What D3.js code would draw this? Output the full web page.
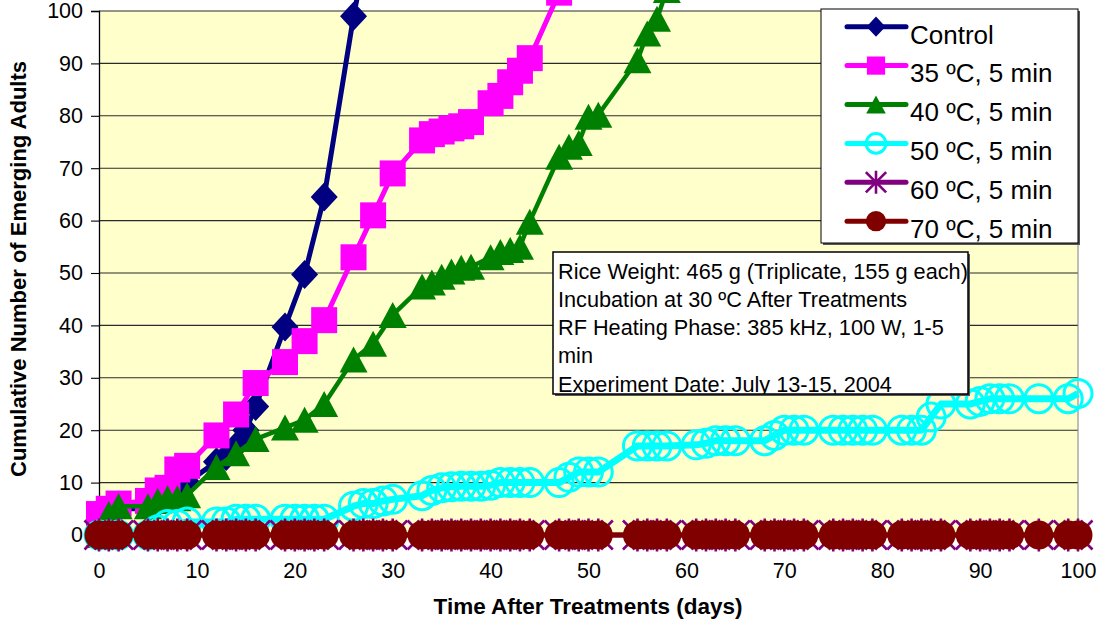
<!DOCTYPE html>
<html>
<head>
<meta charset="utf-8">
<script src="https://cdn.jsdelivr.net/npm/d3@7"></script>
<style>
html,body{margin:0;padding:0;background:#fff;}
svg{display:block;font-family:Arial,"Liberation Sans",Helvetica,sans-serif;}
</style>
</head>
<body>
<svg id="chart" width="1100" height="627"></svg>
<script>
// ---------- data ----------
const xTicks = [0,10,20,30,40,50,60,70,80,90,100];
const yTicks = [0,10,20,30,40,50,60,70,80,90,100];
const seriesNames = ["Control","35 \u00BAC, 5 min","40 \u00BAC, 5 min","50 \u00BAC, 5 min","60 \u00BAC, 5 min","70 \u00BAC, 5 min"];

const controlDays = [0,1,2,5,6,7,8,9,12,13,14,15,16,19,21,23,26,28];
const controlVals = [3,4,5,5,6,7,8,10,14,15,17,20,24.5,39.7,49.7,64.5,99,118];

const t35Days = [0,1,2,5,6,7,8,9,12,14,16,19,21,23,26,28,30,33,34,35,36,37,38,40,41,42,43,44,47];
const t35Vals = [4,5,6,6.5,8.5,9,12.5,13.2,19,23,29,33,37,41,53,61,69,75.3,76.5,77,77.6,78,78.8,82.4,83.8,86.4,88.6,91,103.5];

const t40Days = [0,1,2,5,6,7,8,9,12,14,16,19,21,23,26,28,30,33,34,35,36,37,38,40,41,42,43,44,47,48,49,50,51,55,56,57,58];
const t40Vals = [0,4,5.5,5.5,6.5,7,7,7.6,13,15.6,18.3,20.5,22,25,33.5,36.5,42,47.4,48.2,49.3,50.3,51,51.2,53,54,54.4,55,59.8,72.2,74.1,74.8,79.8,80.2,90.6,95.7,98.5,104];

const commonDays = [0,1,2,5,6,7,8,9,12,13,14,15,16,19,20,21,22,23,26,27,28,29,30,33,34,35,36,37,38,39,40,41,42,43,44,47,48,49,50,51,55,56,57,58,61,62,63,64,65,68,69,70,71,72,75,76,77,78,79,82,83,84,85,86,89,90,91,92,93,96,99,100];
const t50Vals = [0,0,0,0,1,2,2,2.5,2.5,2.5,3,3,3,3,3,3,3,3,5.5,6,6,6.5,6.8,7.5,8.5,9,9.2,9.3,9.3,9.3,9.5,10,10,10,10,10,11,12,12,12,17,17,17,17,17.2,17.5,18,18,18,18,19,20,20,20,20,20,20,20,20,20,20,20,22.5,25,25,25.5,26,26,26,26,26,27,28];
const t60Vals = commonDays.map(() => 0);
const t70Vals = commonDays.map(() => 0);

const colors = ["#000080","#FF00FF","#008000","#00FFFF","#800080","#800000"];

// ---------- layout ----------
const svg = d3.select("#chart");
const x = d3.scaleLinear().domain([0,100]).range([99,1078]);
const y = d3.scaleLinear().domain([0,100]).range([535,11]);

// plot background
svg.append("rect").attr("x",x(0)).attr("y",y(100)).attr("width",x(100)-x(0)).attr("height",y(0)-y(100))
  .attr("fill","#FFFFCC");

// gridlines
svg.append("g").selectAll("line").data(yTicks.filter(d=>d>0)).join("line")
  .attr("x1",x(0)).attr("x2",x(100)).attr("y1",d=>y(d)).attr("y2",d=>y(d))
  .attr("stroke","#2a2a2a").attr("stroke-width",1.1);
// right border
svg.append("line").attr("x1",x(100)).attr("x2",x(100)).attr("y1",y(100)).attr("y2",y(0))
  .attr("stroke","#808080").attr("stroke-width",1);

// y axis
const yAxis = d3.axisLeft(y).tickValues(yTicks).tickSize(8).tickPadding(8).tickFormat(d3.format("d"));
const gy = svg.append("g").attr("transform",`translate(${x(0)},0)`).call(yAxis);
gy.select(".domain").attr("stroke","#000").attr("stroke-width",1.3);
gy.selectAll(".tick line").attr("stroke","#000").attr("stroke-width",1.1);
gy.selectAll(".tick text").attr("font-size","21.5px").attr("fill","#000")
  .attr("font-family","Arial, 'Liberation Sans', sans-serif");

// x axis
const xAxis = d3.axisBottom(x).tickValues(xTicks).tickSize(0).tickPadding(28).tickFormat(d3.format("d"));
const gx = svg.append("g").attr("transform",`translate(0,${y(0)})`).call(xAxis);
gx.select(".domain").attr("stroke","#000").attr("stroke-width",1.2);
gx.selectAll(".tick text").attr("font-size","21.5px").attr("fill","#000")
  .attr("font-family","Arial, 'Liberation Sans', sans-serif");

// ---------- markers ----------
function markerPath(type, s){
  if(type==="diamond"){ const w=13.5*s,h=14.5*s; return `M0,${-h}L${w},0L0,${h}L${-w},0Z`; }
  if(type==="square"){ const a=13*s; return `M${-a},${-a}H${a}V${a}H${-a}Z`; }
  if(type==="triangle"){ const w=14*s,h=13*s; return `M0,${-h}L${w},${h}L${-w},${h}Z`; }
  if(type==="star"){ const a=14.5*s, b=16.5*s; return `M${-a},${-a}L${a},${a}M${-a},${a}L${a},${-a}M0,${-b}V${b}`; }
  return null;
}
function drawMarker(g, type, color, s){
  if(type==="circle"){
    g.append("circle").attr("r",14*s).attr("fill","none").attr("stroke",color).attr("stroke-width",3);
  } else if(type==="dot"){
    g.append("circle").attr("r",14.5*s).attr("fill",color);
  } else if(type==="star"){
    g.append("path").attr("d",markerPath(type,s)).attr("fill","none").attr("stroke",color).attr("stroke-width",2.6);
  } else {
    g.append("path").attr("d",markerPath(type,s)).attr("fill",color);
  }
}

const series = [
  {name:seriesNames[0], days:controlDays, vals:controlVals, color:colors[0], marker:"diamond", lw:5},
  {name:seriesNames[1], days:t35Days, vals:t35Vals, color:colors[1], marker:"square", lw:5},
  {name:seriesNames[2], days:t40Days, vals:t40Vals, color:colors[2], marker:"triangle", lw:4.5},
  {name:seriesNames[3], days:commonDays, vals:t50Vals, color:colors[3], marker:"circle", lw:7},
  {name:seriesNames[4], days:commonDays, vals:t60Vals, color:colors[4], marker:"star", lw:5},
  {name:seriesNames[5], days:commonDays, vals:t70Vals, color:colors[5], marker:"dot", lw:5}
];

const line = d3.line().x(d=>x(d[0])).y(d=>y(d[1]));
series.forEach(s=>{
  const pts = s.days.map((d,i)=>[d,s.vals[i]]);
  const g = svg.append("g");
  g.append("path").datum(pts).attr("d",line).attr("fill","none").attr("stroke",s.color)
    .attr("stroke-width",s.lw).attr("stroke-linejoin","round");
  pts.forEach(p=>{
    const m = g.append("g").attr("transform",`translate(${x(p[0])},${y(p[1])})`);
    drawMarker(m, s.marker, s.color, 1);
  });
});

// ---------- annotation box ----------
const notes = ["Rice Weight: 465 g (Triplicate, 155 g each)","Incubation at 30 \u00BAC After Treatments","RF Heating Phase: 385 kHz, 100 W, 1-5","min","Experiment Date: July 13-15, 2004"];
const ab = {x:553,y:252,w:415,h:142};
svg.append("rect").attr("x",ab.x+2).attr("y",ab.y+2).attr("width",ab.w).attr("height",ab.h).attr("fill","#555");
svg.append("rect").attr("x",ab.x).attr("y",ab.y).attr("width",ab.w).attr("height",ab.h)
  .attr("fill","#fff").attr("stroke","#000").attr("stroke-width",1.5);
svg.append("clipPath").attr("id","noteclip").append("rect").attr("x",ab.x).attr("y",ab.y).attr("width",ab.w).attr("height",ab.h);
svg.append("g").attr("clip-path","url(#noteclip)").selectAll("text").data(notes).join("text")
  .attr("x",ab.x+5).attr("y",(d,i)=>278.5+i*28.3).attr("font-size","21.7px").attr("fill","#000").text(d=>d);

// ---------- legend ----------
const lg = {x:821,y:9,w:257,h:234};
svg.append("rect").attr("x",lg.x+2).attr("y",lg.y+2).attr("width",lg.w).attr("height",lg.h).attr("fill","#555");
svg.append("rect").attr("x",lg.x).attr("y",lg.y).attr("width",lg.w).attr("height",lg.h)
  .attr("fill","#fff").attr("stroke","#000").attr("stroke-width",1);
series.forEach((s,i)=>{
  const ly = 26.7 + i*38.9;
  svg.append("line").attr("x1",847).attr("x2",906).attr("y1",ly).attr("y2",ly)
    .attr("stroke",s.color).attr("stroke-width",5).attr("stroke-linecap","round");
  const m = svg.append("g").attr("transform",`translate(876,${ly})`);
  drawMarker(m, s.marker, s.color, 0.7);
  svg.append("text").attr("x",910).attr("y",43.5+i*38.9).attr("font-size","26px").attr("fill","#000").text(s.name);
});

// ---------- axis titles ----------
svg.append("text").attr("x",588).attr("y",614).attr("text-anchor","middle")
  .attr("font-size","22.5px").attr("font-weight","bold").attr("fill","#000").text("Time After Treatments (days)");
svg.append("text").attr("transform","translate(26,269) rotate(-90)").attr("text-anchor","middle")
  .attr("font-size","22px").attr("font-weight","bold").attr("fill","#000").text("Cumulative Number of Emerging Adults");
</script>
</body>
</html>
